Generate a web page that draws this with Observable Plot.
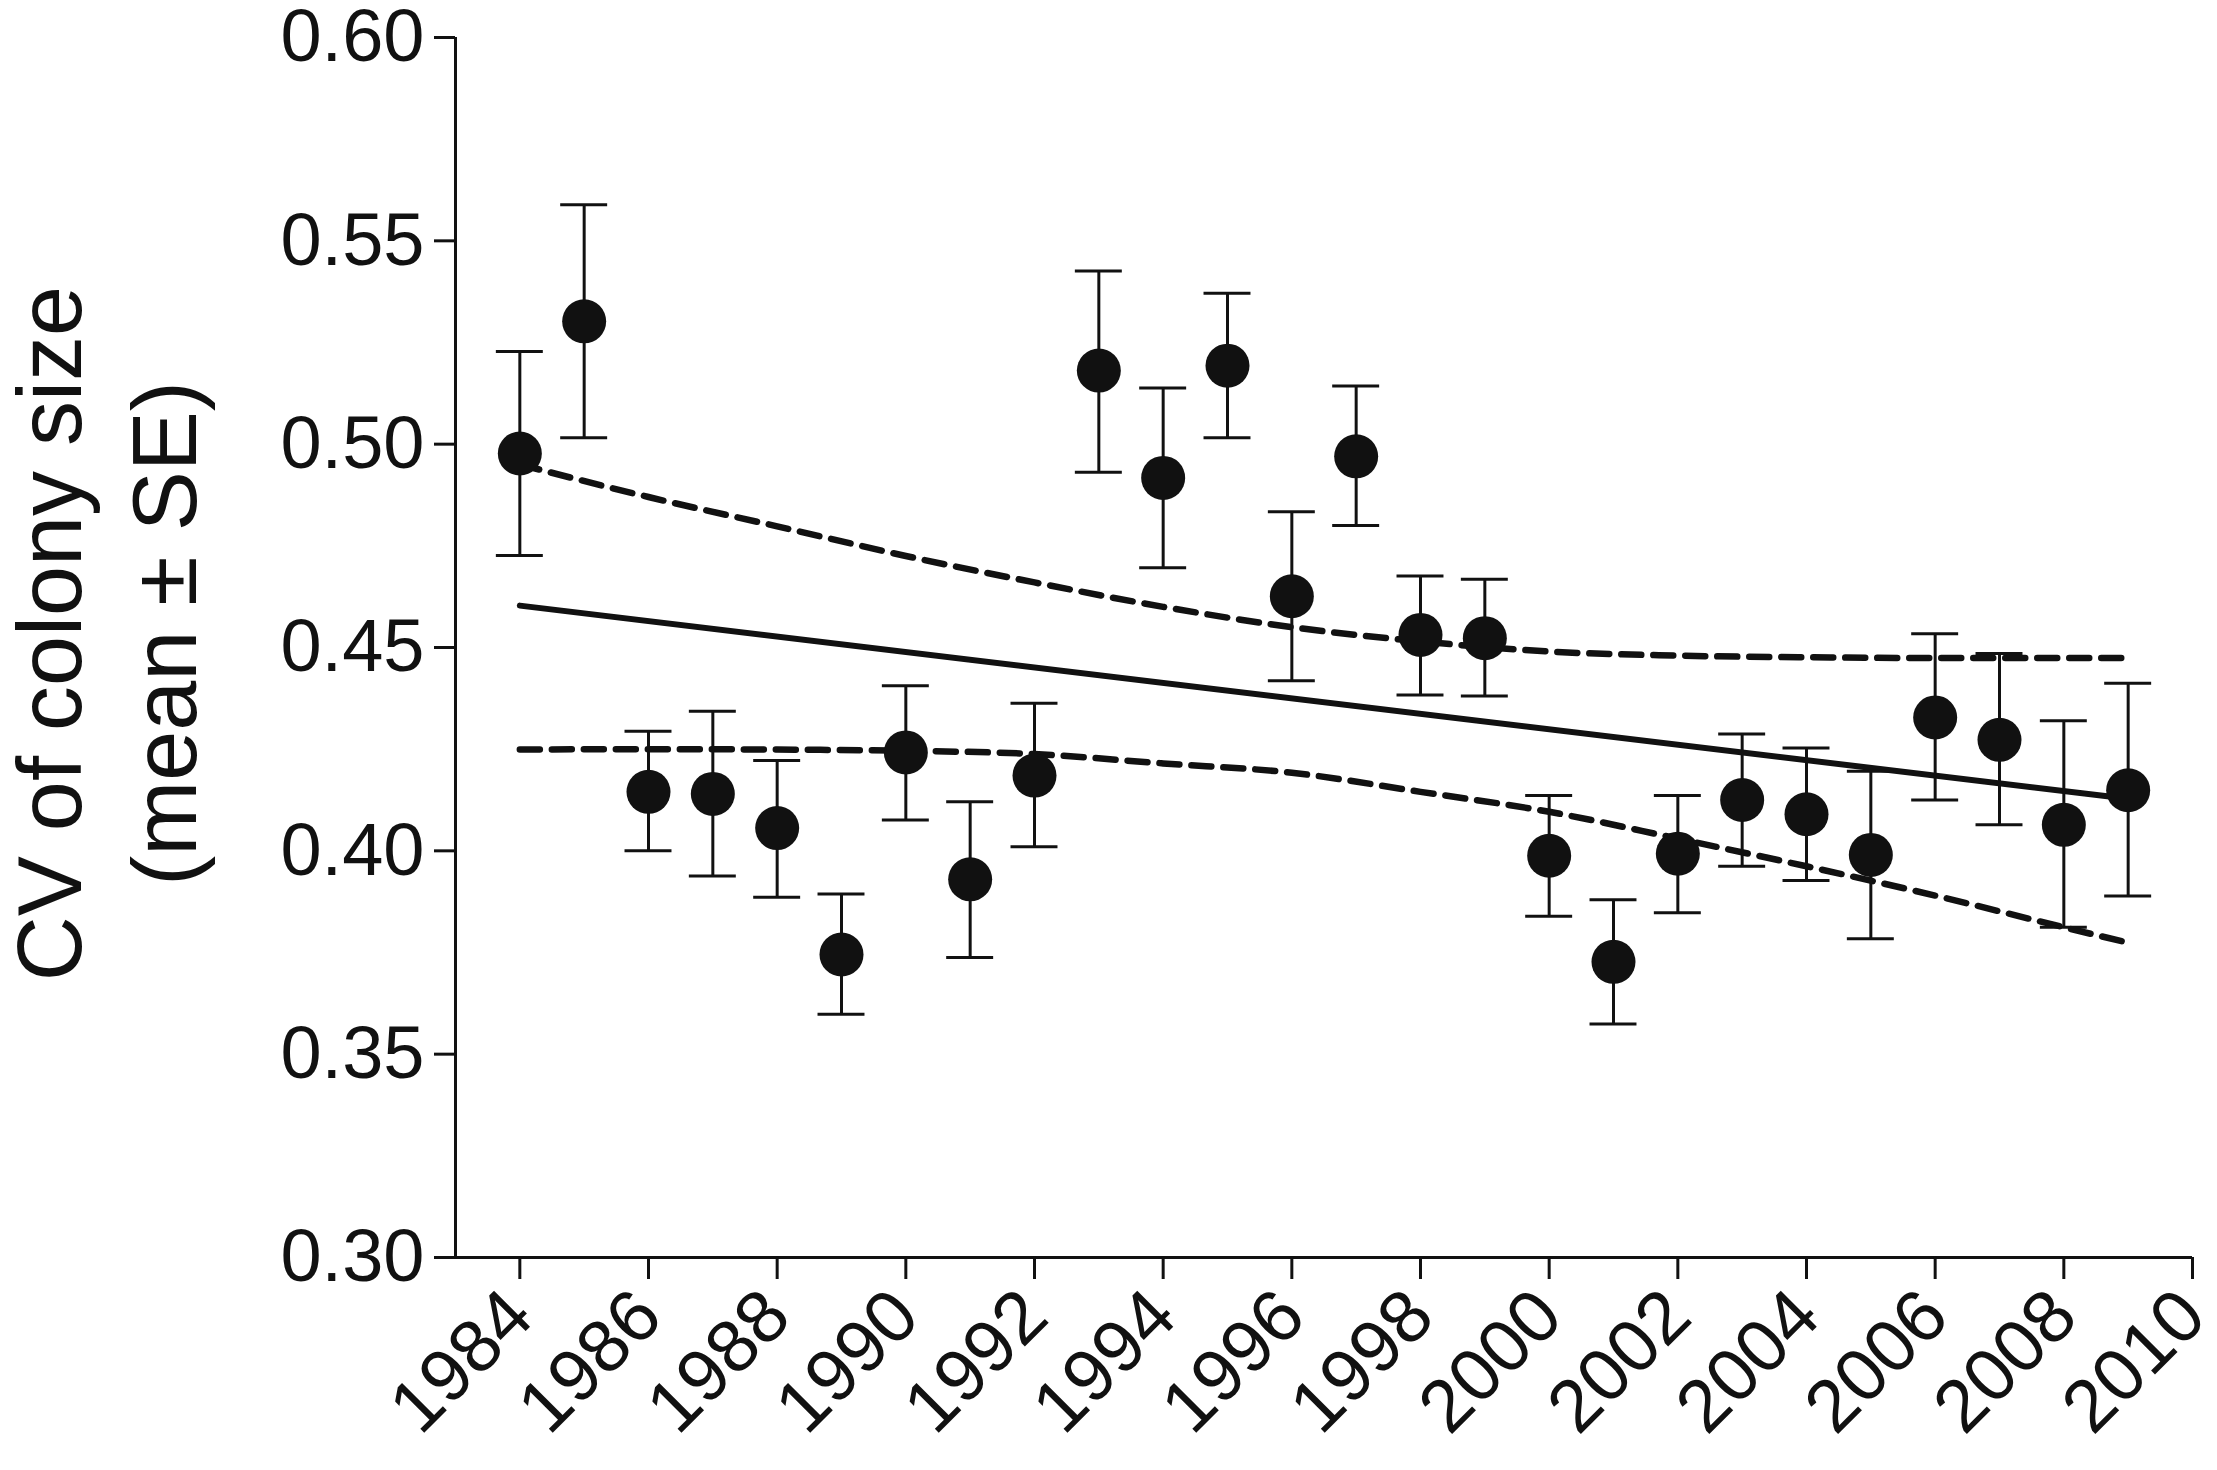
<!DOCTYPE html>
<html>
<head>
<meta charset="utf-8">
<script src="https://cdn.jsdelivr.net/npm/d3@7"></script>
<script src="https://cdn.jsdelivr.net/npm/@observablehq/plot@0.6"></script>
<style>
  html, body { margin: 0; padding: 0; background: #fff; }
  #chart svg { display: block; }
</style>
</head>
<body>
<div id="chart"></div>
<script>
// ---- data ----
const years = [1984,1985,1986,1987,1988,1989,1990,1991,1992,1993,1994,1995,1996,
               1997,1998,1999,2000,2001,2002,2003,2004,2005,2006,2007,2008,2009];
const meanCV = [0.4977,0.5302,0.4145,0.4140,0.4056,0.3745,0.4242,0.3930,0.4185,0.5181,0.4917,0.5193,0.4626,
                0.4970,0.4531,0.4523,0.3988,0.3727,0.3993,0.4125,0.4090,0.3990,0.4328,0.4273,0.4064,0.4149];
const upperSE = [0.5228,0.5589,0.4294,0.4343,0.4222,0.3894,0.4406,0.4121,0.4363,0.5426,0.5138,0.5371,0.4834,
                 0.5143,0.4676,0.4668,0.4136,0.3880,0.4136,0.4287,0.4253,0.4196,0.4534,0.4485,0.4320,0.4412];
const lowerSE = [0.4726,0.5016,0.4000,0.3938,0.3886,0.3598,0.4076,0.3738,0.4010,0.4931,0.4696,0.5016,0.4418,
                 0.4800,0.4383,0.4381,0.3839,0.3574,0.3848,0.3962,0.3927,0.3784,0.4125,0.4064,0.3812,0.3889];

// regression line end points
const fitYears = [1984, 2009];
const fitValues = [0.4603, 0.4128];

// 95% confidence band read at these years
const bandYears = [1984,1986,1988,1990,1992,1994,1996,1998,2000,2002,2004,2006,2008,2009];
const bandUpper = [0.4950,0.4870,0.4798,0.4725,0.4660,0.4600,0.4550,0.4515,0.4490,0.4480,0.4476,0.4474,0.4474,0.4474];
const bandLower = [0.4249,0.4250,0.4249,0.4246,0.4238,0.4215,0.4192,0.4145,0.4096,0.4030,0.3962,0.3890,0.3812,0.3774];

const yTicks = [0.30,0.35,0.40,0.45,0.50,0.55,0.60];
const xTicks = [1984,1986,1988,1990,1992,1994,1996,1998,2000,2002,2004,2006,2008,2010];
const yLabel = "CV of colony size\n(mean ± SE)";

// ---- tables built from the arrays ----
const pts = years.map((y, i) => ({year: y, mean: meanCV[i], hi: upperSE[i], lo: lowerSE[i]}));
const fit = fitYears.map((y, i) => ({year: y, v: fitValues[i]}));
const bandU = bandYears.map((y, i) => ({year: y, v: bandUpper[i]}));
const bandL = bandYears.map((y, i) => ({year: y, v: bandLower[i]}));

const ink = "#111";
const capHalf = 0.365; // half cap width in years

const chart = Plot.plot({
  width: 2217,
  height: 1470,
  marginLeft: 455,
  marginRight: 25,
  marginTop: 37,
  marginBottom: 213,
  style: {fontFamily: "'Liberation Sans', Arial, Helvetica, sans-serif", fontSize: "74px", color: ink, background: "#fff"},
  x: {domain: [1983, 2010]},
  y: {domain: [0.30, 0.60]},
  marks: [
    // axis lines
    Plot.ruleX([1983], {y1: 0.30, y2: 0.60, stroke: ink, strokeWidth: 3}),
    Plot.ruleY([0.30], {x1: 1983, x2: 2010, stroke: ink, strokeWidth: 3}),
    Plot.axisY({ticks: yTicks, tickFormat: d3.format(".2f"), tickSize: 21, tickPadding: 10,
                fontSize: 74, stroke: ink, strokeWidth: 3, label: null}),
    Plot.axisX({ticks: xTicks, tickFormat: d => String(d), tickRotate: -45, tickSize: 22, tickPadding: 24,
                fontSize: 74, stroke: ink, strokeWidth: 3, label: null}),
    // y axis title
    Plot.text([yLabel], {frameAnchor: "left", textAnchor: "middle", rotate: -90, dx: -354, dy: -14, fontSize: 90,
                         lineHeight: 1.28, fill: ink}),
    // confidence band and fit
    Plot.line(bandU, {x: "year", y: "v", stroke: ink, strokeWidth: 6.5, strokeDasharray: "20,12", curve: "monotone-x"}),
    Plot.line(bandL, {x: "year", y: "v", stroke: ink, strokeWidth: 6.5, strokeDasharray: "20,12", curve: "monotone-x"}),
    Plot.line(fit, {x: "year", y: "v", stroke: ink, strokeWidth: 6}),
    // error bars
    Plot.ruleX(pts, {x: "year", y1: "lo", y2: "hi", stroke: ink, strokeWidth: 3}),
    Plot.ruleY(pts, {y: "hi", x1: d => d.year - capHalf, x2: d => d.year + capHalf, stroke: ink, strokeWidth: 3}),
    Plot.ruleY(pts, {y: "lo", x1: d => d.year - capHalf, x2: d => d.year + capHalf, stroke: ink, strokeWidth: 3}),
    // means
    Plot.dot(pts, {x: "year", y: "mean", r: 22, fill: ink, stroke: "none"})
  ]
});
document.getElementById("chart").appendChild(chart);
</script>
</body>
</html>
